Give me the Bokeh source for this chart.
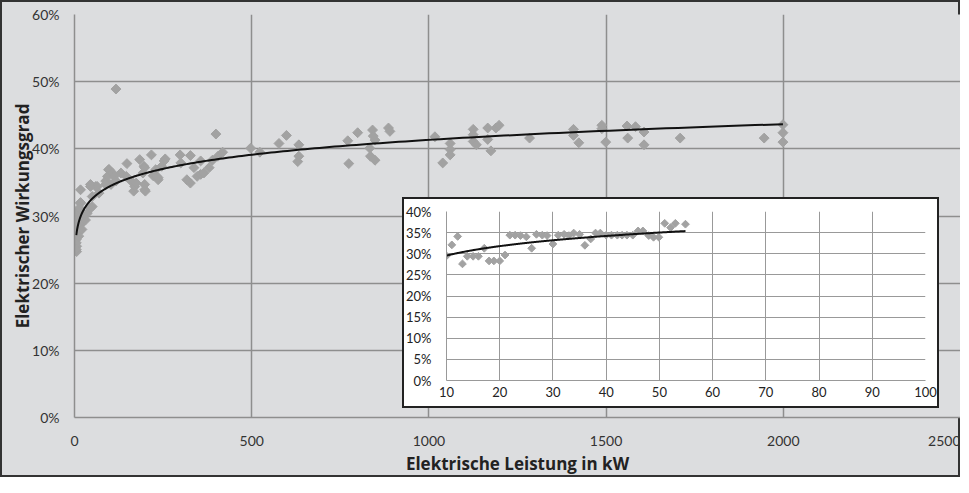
import numpy as np
from bokeh.plotting import figure
from bokeh.models import FixedTicker, NumeralTickFormatter, Range1d
from bokeh.embed import file_html
from bokeh.resources import INLINE

# ---- main chart data: electrical power (kW) vs. electrical efficiency (%)
power_kw = [5, 5, 6, 6, 7, 7, 17, 21, 31, 36, 26, 45, 17, 17, 50, 45, 60, 64, 88, 93,
            96, 98, 103, 107, 112, 117, 131, 146, 148, 160, 167, 170, 174, 184, 193, 196,
            198, 198, 198, 200, 217, 222, 229, 232, 236, 236, 246, 253, 256, 298, 300, 317,
            327, 327, 337, 346, 356, 356, 365, 380, 389, 399, 405, 418, 117,
            17, 50, 45, 88, 69, 5, 10, 12, 8, 14, 5,
            497, 523, 577, 598, 633, 633, 630, 771, 799, 774, 841, 843, 848, 833, 835, 848,
            886, 890, 1017, 1060, 1060, 1060, 1039, 1125, 1125, 1125, 1134, 1166, 1166, 1175,
            1189, 1198, 1284, 1408, 1408, 1423, 1488, 1488, 1499, 1559, 1583, 1561, 1607,
            1607, 1709, 1946, 1999, 1999, 1999]
efficiency_pct = [28.2, 26.5, 25.5, 24.7, 29.2, 27.5, 28.7, 28.0, 29.4, 30.4, 30.2, 31.2, 32.0,
                  33.9, 32.9, 34.7, 34.4, 34.4, 35.2, 35.9, 36.9, 36.9, 34.7, 36.4, 35.9, 35.2,
                  36.4, 35.9, 37.8, 35.2, 33.7, 34.4, 34.9, 38.4, 36.4, 37.4, 37.2, 33.9, 34.7,
                  33.7, 39.1, 36.0, 36.9, 35.9, 35.4, 35.7, 37.4, 38.2, 38.5, 39.1, 37.9, 35.4,
                  34.9, 39.0, 37.2, 35.9, 38.2, 36.2, 36.4, 37.2, 38.3, 42.2, 38.9, 39.5, 48.9,
                  31.9, 31.4, 34.4, 34.7, 33.4, 26.0, 29.8, 27.0, 30.6, 31.2, 25.0,
                  40.1, 39.5, 40.8, 42.0, 40.6, 38.9, 38.1, 41.2, 42.4, 37.8, 42.8, 41.9, 41.3,
                  40.1, 38.9, 38.3, 43.1, 42.6, 41.8, 40.8, 39.9, 39.1, 37.9, 42.9, 42.1, 41.1,
                  40.6, 43.1, 41.4, 39.7, 43.1, 43.5, 41.6, 42.9, 42.0, 40.9, 43.5, 43.0, 41.0,
                  43.4, 43.3, 41.6, 42.5, 40.6, 41.6, 41.6, 43.6, 42.4, 41.0]

# power trendline of the main chart at a few x values
trend_kw = [100, 500, 1000, 2000]
trend_pct = [34.4, 39.15, 41.4, 43.6]

# ---- inset data (10-100 kW)
inset_kw = [10, 11, 12.1, 13, 13.9, 15, 16, 17.1, 18, 18.9, 20, 21, 21.9, 22.9, 23.9, 25, 26,
            26.9, 28, 28.9, 30, 31, 32.1, 33, 33.9, 35, 36, 37.1, 38, 38.9, 40, 41, 42.1, 43,
            43.9, 45, 46, 46.9, 48, 48.9, 49.9, 51, 52.1, 53, 54.9]
inset_pct = [29.5, 32.1, 34.1, 27.6, 29.4, 29.4, 29.4, 31.3, 28.3, 28.3, 28.3, 29.7, 34.4, 34.4,
             34.3, 34.0, 31.3, 34.6, 34.4, 34.3, 32.3, 34.4, 34.6, 34.3, 34.9, 34.6, 32.0, 33.5,
             34.9, 34.9, 34.4, 34.4, 34.4, 34.4, 34.4, 34.4, 35.4, 35.4, 34.3, 33.9, 33.9, 37.2,
             36.2, 37.2, 37.0]

# power trendline of the inset
inset_trend_kw = [10, 20, 30, 40, 50, 55]
inset_trend_pct = [29.5, 31.9, 33.2, 34.25, 35.0, 35.3]

main_x_ticks = [0, 500, 1000, 1500, 2000, 2500]
main_y_ticks = [0, 0.1, 0.2, 0.3, 0.4, 0.5, 0.6]
inset_x_ticks = [10, 20, 30, 40, 50, 60, 70, 80, 90, 100]
inset_y_ticks = [0, 0.05, 0.10, 0.15, 0.20, 0.25, 0.30, 0.35, 0.40]

x_label = "Elektrische Leistung in kW"
y_label = "Elektrischer Wirkungsgrad"

BG = "#dcdddf"
GRID = "#8e8e8e"
PT = "#a2a2a2"
FONT = "Lato"
LABEL_FONT = "Open Sans"


def power_curve(tx, ty, x_from, x_to):
    """Power trendline y = c * x^k through the read trend values."""
    k, c = np.polyfit(np.log(np.asarray(tx, float)), np.log(np.asarray(ty, float)), 1)
    gx = np.geomspace(x_from, x_to, 300)
    return gx, np.exp(c) * gx ** k


# ---------------- main figure
p = figure(width=960, height=477, output_backend="svg", toolbar_location=None,
           x_range=Range1d(0, 2500), y_range=Range1d(0, 0.6),
           background_fill_color=BG, border_fill_color=None,
           min_border_left=74, min_border_right=0, min_border_top=14, min_border_bottom=60)
p.outline_line_color = None

mx = np.array(power_kw, float)
my = np.array(efficiency_pct, float) / 100
p.scatter(mx, my, marker="square", angle=np.pi / 4, size=7, fill_color=PT, line_color=PT)
cx, cy = power_curve(trend_kw, np.array(trend_pct) / 100, mx.min(), mx.max())
p.line(cx, cy, line_color="#111111", line_width=2)

p.xaxis.ticker = FixedTicker(ticks=main_x_ticks)
p.yaxis.ticker = FixedTicker(ticks=main_y_ticks)
p.yaxis.formatter = NumeralTickFormatter(format="0%")
for ax in (p.xaxis[0], p.yaxis[0]):
    ax.axis_line_color = GRID
    ax.axis_line_width = 1.5
    ax.major_tick_line_color = None
    ax.major_tick_out = 0
    ax.major_tick_in = 0
    ax.minor_tick_line_color = None
    ax.minor_tick_out = 0
    ax.major_label_text_font = FONT
    ax.major_label_text_font_size = "14px"
    ax.major_label_text_color = "#333333"
    ax.axis_label_text_font = LABEL_FONT
    ax.axis_label_text_font_style = "bold"
    ax.axis_label_text_font_size = "17px"
    ax.axis_label_text_color = "#222222"
p.xaxis.axis_label = x_label
p.yaxis.axis_label = y_label
p.xaxis.major_label_standoff = 18
p.xaxis.axis_label_standoff = 3
p.yaxis.major_label_standoff = 15
p.yaxis.axis_label_standoff = -5
p.grid.grid_line_color = GRID
p.grid.grid_line_width = 1.5
p.styles = {"background-color": BG, "box-shadow": "inset 0 0 0 2px #333333"}

# ---------------- inset figure (separate root, placed over the main chart)
q = figure(width=537, height=211, output_backend="svg", toolbar_location=None,
           x_range=Range1d(10, 100), y_range=Range1d(0, 0.4),
           background_fill_color="white", border_fill_color=None,
           min_border_left=44, min_border_right=14, min_border_top=14, min_border_bottom=28)
q.outline_line_color = None
ix = np.array(inset_kw, float)
iy = np.array(inset_pct, float) / 100
q.scatter(ix, iy, marker="square", angle=np.pi / 4, size=5.5, fill_color=PT, line_color=PT)
qx, qy = power_curve(inset_trend_kw, np.array(inset_trend_pct) / 100, ix.min(), ix.max())
q.line(qx, qy, line_color="#111111", line_width=2)
q.xaxis.ticker = FixedTicker(ticks=inset_x_ticks)
q.yaxis.ticker = FixedTicker(ticks=inset_y_ticks)
q.yaxis.formatter = NumeralTickFormatter(format="0%")
for ax in (q.xaxis[0], q.yaxis[0]):
    ax.axis_line_color = "#999999"
    ax.major_tick_line_color = None
    ax.major_tick_out = 0
    ax.major_tick_in = 0
    ax.minor_tick_line_color = None
    ax.minor_tick_out = 0
    ax.major_label_text_font = FONT
    ax.major_label_text_font_size = "13px"
    ax.major_label_text_color = "#222222"
q.xaxis.major_label_standoff = 6
q.yaxis.major_label_standoff = 15
q.grid.grid_line_color = "#999999"
q.grid.grid_line_width = 1
q.styles = {"position": "absolute", "left": "402px", "top": "197px",
            "background-color": "white", "box-shadow": "inset 0 0 0 2px #222222"}

open("out.html", "w").write(file_html([p, q], INLINE))
